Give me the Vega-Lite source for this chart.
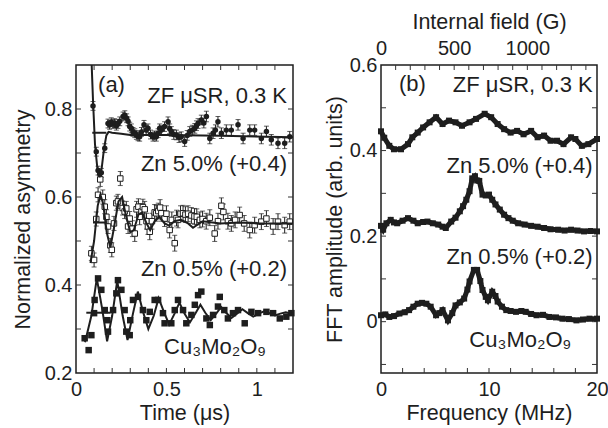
{
  "$schema": "https://vega.github.io/schema/vega-lite/v6.json",
  "padding": {"left": 11, "top": 10, "right": 8, "bottom": 5},
  "spacing": 88,
  "bounds": "flush",
  "config": {
    "font": "Liberation Sans",
    "background": "white",
    "view": {"stroke": "#1e1e1e", "strokeWidth": 1.5},
    "axis": {"grid": false, "domain": false, "ticks": false, "labelFont": "Liberation Sans", "labelFontSize": 20, "labelColor": "#1e1e1e", "titleFont": "Liberation Sans", "titleFontSize": 21.5, "titleFontWeight": "normal", "titleColor": "#1e1e1e", "minExtent": 0, "labelFlush": false},
    "text": {"font": "Liberation Sans", "fontSize": 22, "color": "#1e1e1e"}
  },
  "datasets": {
    "one": [{}],
    "ta_x": [{"val":0.1},{"val":0.2},{"val":0.3},{"val":0.4},{"val":0.5},{"val":0.6},{"val":0.7},{"val":0.8},{"val":0.9},{"val":1.0},{"val":1.1}],
    "ta_y": [{"val":0.3},{"val":0.4},{"val":0.5},{"val":0.6},{"val":0.7},{"val":0.8}],
    "tb_x": [{"val":2},{"val":4},{"val":6},{"val":8},{"val":10},{"val":12},{"val":14},{"val":16},{"val":18}],
    "tb_y": [{"val":-0.1},{"val":0},{"val":0.1},{"val":0.2},{"val":0.3},{"val":0.4},{"val":0.5}],
    "tb_g": [{"val":100},{"val":200},{"val":300},{"val":400},{"val":500},{"val":600},{"val":700},{"val":800},{"val":900},{"val":1000},{"val":1100},{"val":1200},{"val":1300},{"val":1400}],
    "zn5": [
      {"t":0.094,"v":0.807,"e":0.01},{"t":0.112,"v":0.703,"e":0.01},{"t":0.122,"v":0.66,"e":0.01},{"t":0.131,"v":0.652,"e":0.01},{"t":0.14,"v":0.655,"e":0.01},{"t":0.159,"v":0.711,"e":0.01},{"t":0.177,"v":0.767,"e":0.01},{"t":0.186,"v":0.764,"e":0.01},{"t":0.195,"v":0.77,"e":0.01},{"t":0.205,"v":0.766,"e":0.01},{"t":0.214,"v":0.768,"e":0.01},{"t":0.223,"v":0.762,"e":0.01},{"t":0.232,"v":0.766,"e":0.01},{"t":0.242,"v":0.772,"e":0.01},{"t":0.26,"v":0.783,"e":0.01},{"t":0.27,"v":0.786,"e":0.01},{"t":0.28,"v":0.779,"e":0.01},{"t":0.288,"v":0.772,"e":0.01},{"t":0.297,"v":0.76,"e":0.01},{"t":0.306,"v":0.756,"e":0.01},{"t":0.315,"v":0.748,"e":0.01},{"t":0.325,"v":0.745,"e":0.01},{"t":0.334,"v":0.741,"e":0.01},{"t":0.343,"v":0.738,"e":0.01},{"t":0.352,"v":0.737,"e":0.01},{"t":0.362,"v":0.748,"e":0.01},{"t":0.376,"v":0.764,"e":0.01},{"t":0.388,"v":0.752,"e":0.01},{"t":0.398,"v":0.756,"e":0.01},{"t":0.412,"v":0.742,"e":0.01},{"t":0.426,"v":0.737,"e":0.01},{"t":0.435,"v":0.74,"e":0.01},{"t":0.444,"v":0.737,"e":0.01},{"t":0.454,"v":0.745,"e":0.01},{"t":0.463,"v":0.756,"e":0.01},{"t":0.472,"v":0.752,"e":0.01},{"t":0.49,"v":0.76,"e":0.011},{"t":0.509,"v":0.771,"e":0.011},{"t":0.518,"v":0.755,"e":0.011},{"t":0.527,"v":0.749,"e":0.011},{"t":0.541,"v":0.742,"e":0.011},{"t":0.555,"v":0.741,"e":0.011},{"t":0.57,"v":0.735,"e":0.011},{"t":0.582,"v":0.737,"e":0.011},{"t":0.601,"v":0.726,"e":0.011},{"t":0.615,"v":0.74,"e":0.011},{"t":0.629,"v":0.749,"e":0.011},{"t":0.643,"v":0.752,"e":0.011},{"t":0.657,"v":0.756,"e":0.011},{"t":0.666,"v":0.762,"e":0.011},{"t":0.675,"v":0.767,"e":0.011},{"t":0.693,"v":0.775,"e":0.011},{"t":0.707,"v":0.768,"e":0.011},{"t":0.721,"v":0.783,"e":0.012},{"t":0.74,"v":0.733,"e":0.012},{"t":0.758,"v":0.745,"e":0.012},{"t":0.771,"v":0.752,"e":0.012},{"t":0.785,"v":0.771,"e":0.012},{"t":0.804,"v":0.745,"e":0.012},{"t":0.831,"v":0.752,"e":0.012},{"t":0.859,"v":0.752,"e":0.012},{"t":0.896,"v":0.764,"e":0.012},{"t":0.924,"v":0.733,"e":0.012},{"t":0.961,"v":0.752,"e":0.012},{"t":0.988,"v":0.752,"e":0.012},{"t":1.025,"v":0.733,"e":0.012},{"t":1.053,"v":0.749,"e":0.012},{"t":1.08,"v":0.73,"e":0.012},{"t":1.117,"v":0.722,"e":0.012},{"t":1.154,"v":0.722,"e":0.012},{"t":1.182,"v":0.737,"e":0.012}
    ],
    "zn5fit": [
      {"t":0.084,"v":0.93},{"t":0.094,"v":0.82},{"t":0.105,"v":0.72},{"t":0.118,"v":0.665},{"t":0.13,"v":0.645},{"t":0.142,"v":0.665},{"t":0.155,"v":0.71},{"t":0.168,"v":0.74},{"t":0.18,"v":0.748},{"t":0.2,"v":0.746},{"t":0.25,"v":0.744},{"t":0.3,"v":0.741},{"t":0.5,"v":0.741},{"t":0.8,"v":0.739},{"t":1.2,"v":0.736}
    ],
    "zn05": [
      {"t":0.085,"v":0.472,"e":0.016},{"t":0.1,"v":0.457,"e":0.016},{"t":0.112,"v":0.55,"e":0.016},{"t":0.122,"v":0.605,"e":0.016},{"t":0.134,"v":0.64,"e":0.016},{"t":0.148,"v":0.6,"e":0.016},{"t":0.159,"v":0.578,"e":0.016},{"t":0.168,"v":0.555,"e":0.016},{"t":0.177,"v":0.533,"e":0.016},{"t":0.19,"v":0.49,"e":0.016},{"t":0.198,"v":0.48,"e":0.016},{"t":0.21,"v":0.54,"e":0.016},{"t":0.223,"v":0.586,"e":0.016},{"t":0.232,"v":0.59,"e":0.016},{"t":0.245,"v":0.642,"e":0.016},{"t":0.258,"v":0.575,"e":0.016},{"t":0.269,"v":0.567,"e":0.016},{"t":0.278,"v":0.574,"e":0.016},{"t":0.288,"v":0.533,"e":0.016},{"t":0.297,"v":0.551,"e":0.016},{"t":0.312,"v":0.528,"e":0.018},{"t":0.325,"v":0.517,"e":0.018},{"t":0.335,"v":0.572,"e":0.018},{"t":0.345,"v":0.578,"e":0.018},{"t":0.352,"v":0.555,"e":0.018},{"t":0.362,"v":0.567,"e":0.018},{"t":0.37,"v":0.577,"e":0.018},{"t":0.38,"v":0.572,"e":0.018},{"t":0.39,"v":0.545,"e":0.018},{"t":0.398,"v":0.533,"e":0.018},{"t":0.408,"v":0.521,"e":0.018},{"t":0.42,"v":0.545,"e":0.018},{"t":0.435,"v":0.565,"e":0.018},{"t":0.444,"v":0.563,"e":0.018},{"t":0.455,"v":0.568,"e":0.018},{"t":0.465,"v":0.576,"e":0.018},{"t":0.472,"v":0.563,"e":0.018},{"t":0.49,"v":0.551,"e":0.018},{"t":0.5,"v":0.562,"e":0.018},{"t":0.518,"v":0.525,"e":0.018},{"t":0.53,"v":0.548,"e":0.018},{"t":0.546,"v":0.495,"e":0.018},{"t":0.556,"v":0.552,"e":0.018},{"t":0.564,"v":0.548,"e":0.018},{"t":0.578,"v":0.562,"e":0.018},{"t":0.592,"v":0.563,"e":0.018},{"t":0.605,"v":0.56,"e":0.018},{"t":0.62,"v":0.562,"e":0.018},{"t":0.638,"v":0.558,"e":0.018},{"t":0.655,"v":0.556,"e":0.018},{"t":0.668,"v":0.555,"e":0.018},{"t":0.685,"v":0.548,"e":0.018},{"t":0.7,"v":0.55,"e":0.018},{"t":0.72,"v":0.545,"e":0.018},{"t":0.74,"v":0.553,"e":0.018},{"t":0.767,"v":0.517,"e":0.018},{"t":0.785,"v":0.545,"e":0.018},{"t":0.804,"v":0.58,"e":0.018},{"t":0.815,"v":0.566,"e":0.018},{"t":0.84,"v":0.545,"e":0.018},{"t":0.859,"v":0.54,"e":0.018},{"t":0.88,"v":0.548,"e":0.018},{"t":0.905,"v":0.559,"e":0.018},{"t":0.93,"v":0.54,"e":0.018},{"t":0.961,"v":0.525,"e":0.018},{"t":0.988,"v":0.536,"e":0.018},{"t":1.025,"v":0.544,"e":0.018},{"t":1.053,"v":0.551,"e":0.018},{"t":1.09,"v":0.533,"e":0.018},{"t":1.117,"v":0.544,"e":0.018},{"t":1.154,"v":0.536,"e":0.018},{"t":1.182,"v":0.544,"e":0.018}
    ],
    "zn05fit": [
      {"t":0.08,"v":0.45},{"t":0.1,"v":0.5},{"t":0.12,"v":0.58},{"t":0.135,"v":0.605},{"t":0.15,"v":0.585},{"t":0.17,"v":0.52},{"t":0.19,"v":0.485},{"t":0.21,"v":0.53},{"t":0.235,"v":0.59},{"t":0.255,"v":0.6},{"t":0.275,"v":0.56},{"t":0.3,"v":0.52},{"t":0.32,"v":0.525},{"t":0.345,"v":0.56},{"t":0.365,"v":0.565},{"t":0.39,"v":0.54},{"t":0.41,"v":0.525},{"t":0.435,"v":0.545},{"t":0.46,"v":0.555},{"t":0.49,"v":0.54},{"t":0.515,"v":0.535},{"t":0.545,"v":0.545},{"t":0.58,"v":0.548},{"t":0.62,"v":0.54},{"t":0.647,"v":0.53},{"t":0.7,"v":0.545},{"t":0.8,"v":0.54},{"t":0.9,"v":0.542},{"t":1.0,"v":0.54},{"t":1.2,"v":0.54}
    ],
    "cu": [
      {"t":0.048,"v":0.279},{"t":0.07,"v":0.252},{"t":0.085,"v":0.286},{"t":0.1,"v":0.336},{"t":0.103,"v":0.366},{"t":0.122,"v":0.415},{"t":0.14,"v":0.389},{"t":0.159,"v":0.343},{"t":0.173,"v":0.32},{"t":0.177,"v":0.294},{"t":0.205,"v":0.343},{"t":0.223,"v":0.381},{"t":0.232,"v":0.411},{"t":0.251,"v":0.389},{"t":0.269,"v":0.343},{"t":0.278,"v":0.294},{"t":0.297,"v":0.286},{"t":0.3,"v":0.32},{"t":0.315,"v":0.366},{"t":0.343,"v":0.373},{"t":0.37,"v":0.343},{"t":0.389,"v":0.32},{"t":0.408,"v":0.339},{"t":0.435,"v":0.366},{"t":0.454,"v":0.366},{"t":0.481,"v":0.336},{"t":0.49,"v":0.313},{"t":0.527,"v":0.313},{"t":0.546,"v":0.343},{"t":0.564,"v":0.366},{"t":0.592,"v":0.343},{"t":0.61,"v":0.313},{"t":0.638,"v":0.332},{"t":0.657,"v":0.355},{"t":0.675,"v":0.377},{"t":0.693,"v":0.385},{"t":0.721,"v":0.324},{"t":0.74,"v":0.309},{"t":0.758,"v":0.332},{"t":0.785,"v":0.351},{"t":0.795,"v":0.373},{"t":0.82,"v":0.343},{"t":0.84,"v":0.324},{"t":0.868,"v":0.336},{"t":0.896,"v":0.343},{"t":0.933,"v":0.313},{"t":0.97,"v":0.339},{"t":1.007,"v":0.336},{"t":1.053,"v":0.339},{"t":1.09,"v":0.336},{"t":1.127,"v":0.324},{"t":1.163,"v":0.328},{"t":1.191,"v":0.336}
    ],
    "cufit": [
      {"t":0.05,"v":0.27},{"t":0.085,"v":0.33},{"t":0.115,"v":0.415},{"t":0.145,"v":0.345},{"t":0.172,"v":0.272},{"t":0.2,"v":0.33},{"t":0.228,"v":0.41},{"t":0.258,"v":0.33},{"t":0.285,"v":0.275},{"t":0.315,"v":0.335},{"t":0.342,"v":0.385},{"t":0.37,"v":0.34},{"t":0.4,"v":0.3},{"t":0.43,"v":0.33},{"t":0.457,"v":0.37},{"t":0.485,"v":0.34},{"t":0.515,"v":0.31},{"t":0.545,"v":0.335},{"t":0.572,"v":0.36},{"t":0.6,"v":0.335},{"t":0.63,"v":0.315},{"t":0.66,"v":0.335},{"t":0.688,"v":0.355},{"t":0.715,"v":0.337},{"t":0.745,"v":0.32},{"t":0.775,"v":0.335},{"t":0.803,"v":0.35},{"t":0.83,"v":0.337},{"t":0.86,"v":0.325},{"t":0.89,"v":0.335},{"t":0.92,"v":0.345},{"t":0.95,"v":0.336},{"t":0.98,"v":0.328},{"t":1.01,"v":0.335},{"t":1.04,"v":0.34},{"t":1.07,"v":0.336},{"t":1.1,"v":0.331},{"t":1.13,"v":0.335},{"t":1.16,"v":0.338},{"t":1.2,"v":0.334}
    ],
    "base": [
      {"t0":0.09,"t1":0.168,"v":0.746},{"t0":0.094,"t1":0.168,"v":0.542},{"t0":0.057,"t1":0.19,"v":0.337}
    ],
    "fft": [
      {"s":"cu","f":0,"v":0.015},{"s":"cu","f":0.4,"v":0.017},{"s":"cu","f":0.77,"v":0.011},{"s":"cu","f":1.2,"v":0.013},{"s":"cu","f":1.7,"v":0.019},{"s":"cu","f":2.2,"v":0.022},{"s":"cu","f":2.6,"v":0.027},{"s":"cu","f":3.0,"v":0.035},{"s":"cu","f":3.4,"v":0.042},{"s":"cu","f":3.8,"v":0.044},{"s":"cu","f":4.2,"v":0.042},{"s":"cu","f":4.6,"v":0.035},{"s":"cu","f":5.1,"v":0.015},{"s":"cu","f":5.4,"v":0.02},{"s":"cu","f":5.7,"v":0.027},{"s":"cu","f":6.2,"v":0.003},{"s":"cu","f":6.6,"v":0.02},{"s":"cu","f":6.9,"v":0.038},{"s":"cu","f":7.3,"v":0.045},{"s":"cu","f":7.7,"v":0.054},{"s":"cu","f":8.0,"v":0.075},{"s":"cu","f":8.2,"v":0.094},{"s":"cu","f":8.6,"v":0.121},{"s":"cu","f":8.9,"v":0.121},{"s":"cu","f":9.2,"v":0.095},{"s":"cu","f":9.4,"v":0.074},{"s":"cu","f":9.7,"v":0.058},{"s":"cu","f":9.9,"v":0.05},{"s":"cu","f":10.3,"v":0.07},{"s":"cu","f":10.6,"v":0.06},{"s":"cu","f":10.8,"v":0.047},{"s":"cu","f":11.2,"v":0.035},{"s":"cu","f":11.6,"v":0.027},{"s":"cu","f":12.0,"v":0.025},{"s":"cu","f":12.5,"v":0.023},{"s":"cu","f":13.0,"v":0.025},{"s":"cu","f":13.4,"v":0.023},{"s":"cu","f":13.9,"v":0.018},{"s":"cu","f":14.4,"v":0.015},{"s":"cu","f":15.0,"v":0.016},{"s":"cu","f":15.6,"v":0.011},{"s":"cu","f":16.2,"v":0.01},{"s":"cu","f":16.8,"v":0.007},{"s":"cu","f":17.4,"v":0.006},{"s":"cu","f":18.1,"v":0.003},{"s":"cu","f":18.7,"v":0.005},{"s":"cu","f":19.3,"v":0.007},{"s":"cu","f":20,"v":0.007},
      {"s":"z05","f":0,"v":0.224},{"s":"z05","f":0.2,"v":0.215},{"s":"z05","f":0.5,"v":0.23},{"s":"z05","f":0.9,"v":0.238},{"s":"z05","f":1.2,"v":0.232},{"s":"z05","f":1.5,"v":0.23},{"s":"z05","f":2.0,"v":0.236},{"s":"z05","f":2.5,"v":0.242},{"s":"z05","f":3.0,"v":0.236},{"s":"z05","f":3.4,"v":0.23},{"s":"z05","f":3.9,"v":0.233},{"s":"z05","f":4.3,"v":0.234},{"s":"z05","f":4.8,"v":0.23},{"s":"z05","f":5.3,"v":0.227},{"s":"z05","f":5.7,"v":0.222},{"s":"z05","f":6.0,"v":0.219},{"s":"z05","f":6.5,"v":0.234},{"s":"z05","f":6.9,"v":0.243},{"s":"z05","f":7.3,"v":0.258},{"s":"z05","f":7.6,"v":0.27},{"s":"z05","f":7.9,"v":0.285},{"s":"z05","f":8.2,"v":0.305},{"s":"z05","f":8.45,"v":0.335},{"s":"z05","f":8.7,"v":0.34},{"s":"z05","f":8.9,"v":0.33},{"s":"z05","f":9.1,"v":0.329},{"s":"z05","f":9.4,"v":0.297},{"s":"z05","f":9.7,"v":0.295},{"s":"z05","f":10.0,"v":0.297},{"s":"z05","f":10.3,"v":0.285},{"s":"z05","f":10.6,"v":0.274},{"s":"z05","f":11.0,"v":0.262},{"s":"z05","f":11.4,"v":0.25},{"s":"z05","f":11.8,"v":0.242},{"s":"z05","f":12.2,"v":0.236},{"s":"z05","f":12.7,"v":0.23},{"s":"z05","f":13.3,"v":0.227},{"s":"z05","f":13.9,"v":0.224},{"s":"z05","f":14.5,"v":0.222},{"s":"z05","f":15.1,"v":0.219},{"s":"z05","f":15.7,"v":0.216},{"s":"z05","f":16.4,"v":0.215},{"s":"z05","f":17.0,"v":0.213},{"s":"z05","f":17.6,"v":0.215},{"s":"z05","f":18.2,"v":0.213},{"s":"z05","f":18.8,"v":0.211},{"s":"z05","f":19.4,"v":0.212},{"s":"z05","f":20,"v":0.211},
      {"s":"z5","f":0,"v":0.445},{"s":"z5","f":0.3,"v":0.43},{"s":"z5","f":0.77,"v":0.411},{"s":"z5","f":1.2,"v":0.403},{"s":"z5","f":1.85,"v":0.403},{"s":"z5","f":2.5,"v":0.415},{"s":"z5","f":2.9,"v":0.431},{"s":"z5","f":3.4,"v":0.442},{"s":"z5","f":3.9,"v":0.454},{"s":"z5","f":4.5,"v":0.466},{"s":"z5","f":5.1,"v":0.478},{"s":"z5","f":5.7,"v":0.462},{"s":"z5","f":6.3,"v":0.47},{"s":"z5","f":6.9,"v":0.466},{"s":"z5","f":7.5,"v":0.458},{"s":"z5","f":8.2,"v":0.466},{"s":"z5","f":8.8,"v":0.474},{"s":"z5","f":9.6,"v":0.486},{"s":"z5","f":10.2,"v":0.478},{"s":"z5","f":10.8,"v":0.462},{"s":"z5","f":11.4,"v":0.45},{"s":"z5","f":12.0,"v":0.442},{"s":"z5","f":12.6,"v":0.446},{"s":"z5","f":13.2,"v":0.438},{"s":"z5","f":13.9,"v":0.446},{"s":"z5","f":14.5,"v":0.431},{"s":"z5","f":15.1,"v":0.435},{"s":"z5","f":15.7,"v":0.423},{"s":"z5","f":16.3,"v":0.423},{"s":"z5","f":16.9,"v":0.415},{"s":"z5","f":17.6,"v":0.431},{"s":"z5","f":18.0,"v":0.427},{"s":"z5","f":18.6,"v":0.411},{"s":"z5","f":19.2,"v":0.415},{"s":"z5","f":20,"v":0.427}
    ]
  },
  "hconcat": [
    {
      "width": 217,
      "height": 308,
      "resolve": {"axis": {"x": "independent", "y": "independent"}},
      "layer": [
        {"data": {"name": "zn5"}, "mark": {"type": "point", "opacity": 0},
         "encoding": {
           "x": {"field": "t", "type": "quantitative", "scale": {"domain": [0, 1.2], "nice": false, "zero": false}, "axis": {"orient": "bottom", "values": [0, 0.5, 1], "format": ".4~g", "labelPadding": 6, "title": "Time (μs)", "titlePadding": 3}},
           "y": {"field": "v", "type": "quantitative", "scale": {"domain": [0.2, 0.9], "nice": false, "zero": false}, "axis": {"orient": "left", "values": [0.2, 0.4, 0.6, 0.8], "format": ".4~g", "labelPadding": 4, "title": "Normalized asymmetry", "titlePadding": 10}}}},
        {"data": {"name": "ta_x"}, "mark": {"type": "tick", "orient": "vertical", "size": 10, "thickness": 1, "color": "#333333", "opacity": 1, "clip": true},
         "encoding": {
           "x": {"field": "val", "type": "quantitative", "scale": {"domain": [0, 1.2], "nice": false, "zero": false}, "axis": null},
           "y": {"datum": 0.2, "type": "quantitative", "scale": {"domain": [0.2, 0.9], "nice": false, "zero": false}, "axis": null}}},
        {"data": {"name": "ta_x"}, "mark": {"type": "tick", "orient": "vertical", "size": 10, "thickness": 1, "color": "#333333", "opacity": 1, "clip": true},
         "encoding": {
           "x": {"field": "val", "type": "quantitative", "scale": {"domain": [0, 1.2], "nice": false, "zero": false}, "axis": null},
           "y": {"datum": 0.9, "type": "quantitative", "scale": {"domain": [0.2, 0.9], "nice": false, "zero": false}, "axis": null}}},
        {"data": {"name": "ta_y"}, "mark": {"type": "tick", "orient": "horizontal", "size": 10, "thickness": 1, "color": "#333333", "opacity": 1, "clip": true},
         "encoding": {
           "x": {"datum": 0, "type": "quantitative", "scale": {"domain": [0, 1.2], "nice": false, "zero": false}, "axis": null},
           "y": {"field": "val", "type": "quantitative", "scale": {"domain": [0.2, 0.9], "nice": false, "zero": false}, "axis": null}}},
        {"data": {"name": "ta_y"}, "mark": {"type": "tick", "orient": "horizontal", "size": 10, "thickness": 1, "color": "#333333", "opacity": 1, "clip": true},
         "encoding": {
           "x": {"datum": 1.2, "type": "quantitative", "scale": {"domain": [0, 1.2], "nice": false, "zero": false}, "axis": null},
           "y": {"field": "val", "type": "quantitative", "scale": {"domain": [0.2, 0.9], "nice": false, "zero": false}, "axis": null}}},
        {"data": {"name": "zn5"}, "mark": {"type": "errorbar", "ticks": true, "color": "#1e1e1e"},
         "encoding": {
           "x": {"field": "t", "type": "quantitative", "scale": {"domain": [0, 1.2], "nice": false, "zero": false}, "axis": null},
           "y": {"field": "v", "type": "quantitative", "scale": {"domain": [0.2, 0.9], "nice": false, "zero": false}, "axis": null},
           "yError": {"field": "e"}}},
        {"data": {"name": "zn05"}, "mark": {"type": "errorbar", "ticks": true, "color": "#1e1e1e"},
         "encoding": {
           "x": {"field": "t", "type": "quantitative", "scale": {"domain": [0, 1.2], "nice": false, "zero": false}, "axis": null},
           "y": {"field": "v", "type": "quantitative", "scale": {"domain": [0.2, 0.9], "nice": false, "zero": false}, "axis": null},
           "yError": {"field": "e"}}},
        {"data": {"name": "zn5"}, "mark": {"type": "point", "shape": "circle", "filled": true, "size": 30, "color": "#1e1e1e", "opacity": 1},
         "encoding": {
           "x": {"field": "t", "type": "quantitative", "scale": {"domain": [0, 1.2], "nice": false, "zero": false}, "axis": null},
           "y": {"field": "v", "type": "quantitative", "scale": {"domain": [0.2, 0.9], "nice": false, "zero": false}, "axis": null}}},
        {"data": {"name": "zn05"}, "mark": {"type": "point", "shape": "square", "filled": true, "fill": "white", "stroke": "#1e1e1e", "strokeWidth": 1, "size": 30, "opacity": 1},
         "encoding": {
           "x": {"field": "t", "type": "quantitative", "scale": {"domain": [0, 1.2], "nice": false, "zero": false}, "axis": null},
           "y": {"field": "v", "type": "quantitative", "scale": {"domain": [0.2, 0.9], "nice": false, "zero": false}, "axis": null}}},
        {"data": {"name": "cu"}, "mark": {"type": "point", "shape": "square", "filled": true, "size": 42, "color": "#1e1e1e", "opacity": 1},
         "encoding": {
           "x": {"field": "t", "type": "quantitative", "scale": {"domain": [0, 1.2], "nice": false, "zero": false}, "axis": null},
           "y": {"field": "v", "type": "quantitative", "scale": {"domain": [0.2, 0.9], "nice": false, "zero": false}, "axis": null}}},
        {"data": {"name": "zn5fit"}, "mark": {"type": "line", "color": "#1e1e1e", "strokeWidth": 2, "clip": true},
         "encoding": {
           "x": {"field": "t", "type": "quantitative", "scale": {"domain": [0, 1.2], "nice": false, "zero": false}, "axis": null},
           "y": {"field": "v", "type": "quantitative", "scale": {"domain": [0.2, 0.9], "nice": false, "zero": false}, "axis": null}}},
        {"data": {"name": "zn05fit"}, "mark": {"type": "line", "color": "#1e1e1e", "strokeWidth": 2, "clip": true},
         "encoding": {
           "x": {"field": "t", "type": "quantitative", "scale": {"domain": [0, 1.2], "nice": false, "zero": false}, "axis": null},
           "y": {"field": "v", "type": "quantitative", "scale": {"domain": [0.2, 0.9], "nice": false, "zero": false}, "axis": null}}},
        {"data": {"name": "cufit"}, "mark": {"type": "line", "color": "#1e1e1e", "strokeWidth": 2, "clip": true},
         "encoding": {
           "x": {"field": "t", "type": "quantitative", "scale": {"domain": [0, 1.2], "nice": false, "zero": false}, "axis": null},
           "y": {"field": "v", "type": "quantitative", "scale": {"domain": [0.2, 0.9], "nice": false, "zero": false}, "axis": null}}},
        {"data": {"name": "base"}, "mark": {"type": "rule", "color": "#1e1e1e", "strokeWidth": 2},
         "encoding": {
           "x": {"field": "t0", "type": "quantitative", "scale": {"domain": [0, 1.2], "nice": false, "zero": false}, "axis": null},
           "x2": {"field": "t1"},
           "y": {"field": "v", "type": "quantitative", "scale": {"domain": [0.2, 0.9], "nice": false, "zero": false}, "axis": null}}},
        {"data": {"name": "one"}, "mark": {"type": "text", "text": "(a)", "align": "left", "baseline": "middle"},
         "encoding": {
           "x": {"datum": 0.122, "type": "quantitative", "scale": {"domain": [0, 1.2], "nice": false, "zero": false}, "axis": null},
           "y": {"datum": 0.855, "type": "quantitative", "scale": {"domain": [0.2, 0.9], "nice": false, "zero": false}, "axis": null}}},
        {"data": {"name": "one"}, "mark": {"type": "text", "text": "ZF μSR, 0.3 K", "align": "right", "baseline": "middle"},
         "encoding": {
           "x": {"datum": 1.167, "type": "quantitative", "scale": {"domain": [0, 1.2], "nice": false, "zero": false}, "axis": null},
           "y": {"datum": 0.83, "type": "quantitative", "scale": {"domain": [0.2, 0.9], "nice": false, "zero": false}, "axis": null}}},
        {"data": {"name": "one"}, "mark": {"type": "text", "text": "Zn 5.0% (+0.4)", "align": "right", "baseline": "middle"},
         "encoding": {
           "x": {"datum": 1.167, "type": "quantitative", "scale": {"domain": [0, 1.2], "nice": false, "zero": false}, "axis": null},
           "y": {"datum": 0.675, "type": "quantitative", "scale": {"domain": [0.2, 0.9], "nice": false, "zero": false}, "axis": null}}},
        {"data": {"name": "one"}, "mark": {"type": "text", "text": "Zn 0.5% (+0.2)", "align": "right", "baseline": "middle"},
         "encoding": {
           "x": {"datum": 1.167, "type": "quantitative", "scale": {"domain": [0, 1.2], "nice": false, "zero": false}, "axis": null},
           "y": {"datum": 0.437, "type": "quantitative", "scale": {"domain": [0.2, 0.9], "nice": false, "zero": false}, "axis": null}}},
        {"data": {"name": "one"}, "mark": {"type": "text", "text": "Cu₃Mo₂O₉", "align": "center", "baseline": "middle"},
         "encoding": {
           "x": {"datum": 0.769, "type": "quantitative", "scale": {"domain": [0, 1.2], "nice": false, "zero": false}, "axis": null},
           "y": {"datum": 0.258, "type": "quantitative", "scale": {"domain": [0.2, 0.9], "nice": false, "zero": false}, "axis": null}}}
      ]
    },
    {
      "width": 216,
      "height": 308,
      "resolve": {"scale": {"x": "independent"}, "axis": {"x": "independent", "y": "independent"}},
      "layer": [
        {
          "resolve": {"axis": {"x": "independent", "y": "independent"}},
          "layer": [
            {"data": {"name": "fft"}, "mark": {"type": "point", "opacity": 0},
             "encoding": {
               "x": {"field": "f", "type": "quantitative", "scale": {"domain": [0, 20], "nice": false, "zero": false}, "axis": {"orient": "bottom", "values": [0, 10, 20], "format": ".4~g", "labelPadding": 6, "title": "Frequency (MHz)", "titlePadding": 3}},
               "y": {"field": "v", "type": "quantitative", "scale": {"domain": [-0.12, 0.6], "nice": false, "zero": false}, "axis": {"orient": "left", "values": [0, 0.2, 0.4, 0.6], "format": ".4~g", "labelPadding": 4, "title": "FFT amplitude (arb. units)", "titlePadding": 3}}}},
            {"data": {"name": "tb_x"}, "mark": {"type": "tick", "orient": "vertical", "size": 10, "thickness": 1, "color": "#333333", "opacity": 1, "clip": true},
             "encoding": {
               "x": {"field": "val", "type": "quantitative", "scale": {"domain": [0, 20], "nice": false, "zero": false}, "axis": null},
               "y": {"datum": -0.12, "type": "quantitative", "scale": {"domain": [-0.12, 0.6], "nice": false, "zero": false}, "axis": null}}},
            {"data": {"name": "tb_y"}, "mark": {"type": "tick", "orient": "horizontal", "size": 10, "thickness": 1, "color": "#333333", "opacity": 1, "clip": true},
             "encoding": {
               "x": {"datum": 0, "type": "quantitative", "scale": {"domain": [0, 20], "nice": false, "zero": false}, "axis": null},
               "y": {"field": "val", "type": "quantitative", "scale": {"domain": [-0.12, 0.6], "nice": false, "zero": false}, "axis": null}}},
            {"data": {"name": "tb_y"}, "mark": {"type": "tick", "orient": "horizontal", "size": 10, "thickness": 1, "color": "#333333", "opacity": 1, "clip": true},
             "encoding": {
               "x": {"datum": 20, "type": "quantitative", "scale": {"domain": [0, 20], "nice": false, "zero": false}, "axis": null},
               "y": {"field": "val", "type": "quantitative", "scale": {"domain": [-0.12, 0.6], "nice": false, "zero": false}, "axis": null}}},
            {"data": {"name": "fft"}, "mark": {"type": "line", "color": "#1e1e1e", "strokeWidth": 5},
             "encoding": {
               "x": {"field": "f", "type": "quantitative", "scale": {"domain": [0, 20], "nice": false, "zero": false}, "axis": null},
               "y": {"field": "v", "type": "quantitative", "scale": {"domain": [-0.12, 0.6], "nice": false, "zero": false}, "axis": null},
               "detail": {"field": "s"}}},
            {"data": {"name": "fft"}, "mark": {"type": "point", "shape": "square", "filled": true, "size": 36, "color": "#1e1e1e", "opacity": 1},
             "encoding": {
               "x": {"field": "f", "type": "quantitative", "scale": {"domain": [0, 20], "nice": false, "zero": false}, "axis": null},
               "y": {"field": "v", "type": "quantitative", "scale": {"domain": [-0.12, 0.6], "nice": false, "zero": false}, "axis": null}}},
            {"data": {"name": "one"}, "mark": {"type": "text", "text": "(b)", "align": "left", "baseline": "middle"},
             "encoding": {
               "x": {"datum": 1.67, "type": "quantitative", "scale": {"domain": [0, 20], "nice": false, "zero": false}, "axis": null},
               "y": {"datum": 0.555, "type": "quantitative", "scale": {"domain": [-0.12, 0.6], "nice": false, "zero": false}, "axis": null}}},
            {"data": {"name": "one"}, "mark": {"type": "text", "text": "ZF μSR, 0.3 K", "align": "right", "baseline": "middle"},
             "encoding": {
               "x": {"datum": 19.6, "type": "quantitative", "scale": {"domain": [0, 20], "nice": false, "zero": false}, "axis": null},
               "y": {"datum": 0.553, "type": "quantitative", "scale": {"domain": [-0.12, 0.6], "nice": false, "zero": false}, "axis": null}}},
            {"data": {"name": "one"}, "mark": {"type": "text", "text": "Zn 5.0% (+0.4)", "align": "right", "baseline": "middle"},
             "encoding": {
               "x": {"datum": 19.6, "type": "quantitative", "scale": {"domain": [0, 20], "nice": false, "zero": false}, "axis": null},
               "y": {"datum": 0.363, "type": "quantitative", "scale": {"domain": [-0.12, 0.6], "nice": false, "zero": false}, "axis": null}}},
            {"data": {"name": "one"}, "mark": {"type": "text", "text": "Zn 0.5% (+0.2)", "align": "right", "baseline": "middle"},
             "encoding": {
               "x": {"datum": 19.6, "type": "quantitative", "scale": {"domain": [0, 20], "nice": false, "zero": false}, "axis": null},
               "y": {"datum": 0.151, "type": "quantitative", "scale": {"domain": [-0.12, 0.6], "nice": false, "zero": false}, "axis": null}}},
            {"data": {"name": "one"}, "mark": {"type": "text", "text": "Cu₃Mo₂O₉", "align": "center", "baseline": "middle"},
             "encoding": {
               "x": {"datum": 12.9, "type": "quantitative", "scale": {"domain": [0, 20], "nice": false, "zero": false}, "axis": null},
               "y": {"datum": -0.043, "type": "quantitative", "scale": {"domain": [-0.12, 0.6], "nice": false, "zero": false}, "axis": null}}}
          ]
        },
        {"data": {"name": "one"}, "mark": {"type": "point", "opacity": 0},
         "encoding": {
           "x": {"datum": 0, "type": "quantitative", "scale": {"domain": [0, 1476], "nice": false, "zero": false}, "axis": {"orient": "top", "values": [0, 500, 1000], "format": ".4~g", "labelPadding": 7, "title": "Internal field (G)", "titlePadding": 5}}}},
        {"data": {"name": "tb_g"}, "mark": {"type": "tick", "orient": "vertical", "size": 10, "thickness": 1, "color": "#333333", "opacity": 1, "clip": true},
         "encoding": {
           "x": {"field": "val", "type": "quantitative", "scale": {"domain": [0, 1476], "nice": false, "zero": false}, "axis": null},
           "y": {"datum": 0.6, "type": "quantitative", "scale": {"domain": [-0.12, 0.6], "nice": false, "zero": false}, "axis": null}}}
      ]
    }
  ]
}
